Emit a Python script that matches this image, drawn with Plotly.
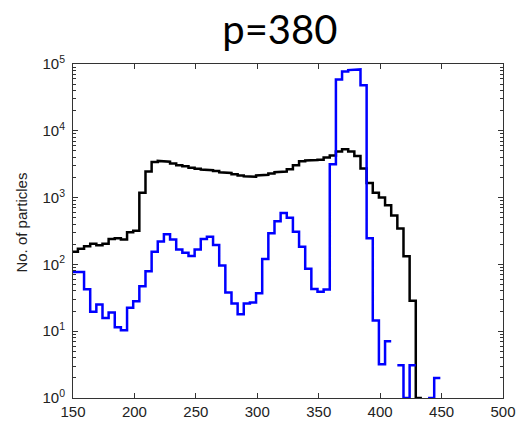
import plotly.graph_objects as go

# ---- data (histogram counts, 5-unit bins) ----
BIN_START = 149
BIN_WIDTH = 5

black_counts = [155, 171, 187, 203, 194, 204, 240, 247, 236, 302,
                320, 1180, 2450, 3400, 3540, 3450, 3250, 3050, 2950, 2810,
                2700, 2630, 2570, 2510, 2400, 2340, 2240, 2150, 2080, 2050,
                2150, 2200, 2290, 2400, 2450, 2660, 3040, 3500, 3600, 3650,
                3700, 4000, 4260, 4900, 5300, 4900, 4200, 2720, 1650, 1180,
                1000, 770, 540, 345, 132, 28.6, 1]

blue_counts = [77, 77, 42.5, 19.5, 25, 15.7, 19, 11.5, 10.3, 22.5,
               28, 47, 79, 155, 221, 283, 235, 167, 150, 134,
               167, 240, 260, 196, 96, 38, 26, 18, 26, 27,
               37, 120, 293, 442, 590, 500, 309, 184, 86, 43,
               39, 42, 3150, 58500, 77000, 81000, 83000, 48000, 247, 14.4,
               3.2, 7.1, 0, 3.1, 1, 3.1, 0, 0, 1, 2]

title_text = "p=380"
y_label = "No. of particles"
x_ticks = [150, 200, 250, 300, 350, 400, 450, 500]
y_ticks = [1, 10, 100, 1000, 10000, 100000]
y_tick_text = ["10<sup>0</sup>", "10<sup>1</sup>", "10<sup>2</sup>",
               "10<sup>3</sup>", "10<sup>4</sup>", "10<sup>5</sup>"]
y_minor = [m * d for d in [1, 10, 100, 1000, 10000] for m in range(2, 10)]


def stairs(counts):
    xs, ys = [], []
    for k, v in enumerate(counts):
        left = BIN_START + k * BIN_WIDTH
        right = left + BIN_WIDTH
        if v > 0:
            xs += [left, right]
            ys += [v, v]
        else:
            xs.append(None)
            ys.append(None)
    return xs, ys


fig = go.Figure()
bx, by = stairs(black_counts)
ux, uy = stairs(blue_counts)
fig.add_trace(go.Scatter(x=bx, y=by, mode="lines", connectgaps=False,
                         line=dict(color="#000000", width=2.5), showlegend=False))
fig.add_trace(go.Scatter(x=ux, y=uy, mode="lines", connectgaps=False,
                         line=dict(color="#0000ff", width=2.5), showlegend=False))

axis_font = dict(family="Liberation Sans, Arial, sans-serif", size=15, color="#222222")

fig.update_layout(
    width=528, height=432,
    margin=dict(l=73, r=14, t=64, b=24),
    paper_bgcolor="white", plot_bgcolor="white",
    title=dict(text=title_text, x=0.53, xanchor="center", xref="container",
               y=1 - 30 / 432, yanchor="middle", yref="container",
               font=dict(family="Lato, sans-serif", size=40, color="#000000")),
    xaxis=dict(range=[150, 500], tickvals=x_ticks, ticks="inside", ticklen=5,
               tickcolor="#333333", showline=True, linecolor="#333333", linewidth=1,
               mirror="allticks", showgrid=False, zeroline=False, tickfont=axis_font),
    yaxis=dict(type="log", range=[0, 5], tickvals=y_ticks, ticktext=y_tick_text,
               ticks="inside", ticklen=5, tickcolor="#333333",
               showline=True, linecolor="#333333", linewidth=1, mirror="allticks",
               showgrid=False, zeroline=False, tickfont=axis_font, ticklabelstandoff=4,
               minor=dict(ticks="inside", ticklen=3, tickcolor="#333333",
                          tickvals=y_minor, showgrid=False)),
    annotations=[dict(text=y_label, textangle=-90, xref="paper", yref="paper",
                      x=(20 - 73) / 441, y=(408 - 227) / 344, showarrow=False,
                      xanchor="center", yanchor="middle",
                      font=dict(family="Liberation Sans, Arial, sans-serif", size=15,
                                color="#222222"))],
)

fig.write_html("out.html")
